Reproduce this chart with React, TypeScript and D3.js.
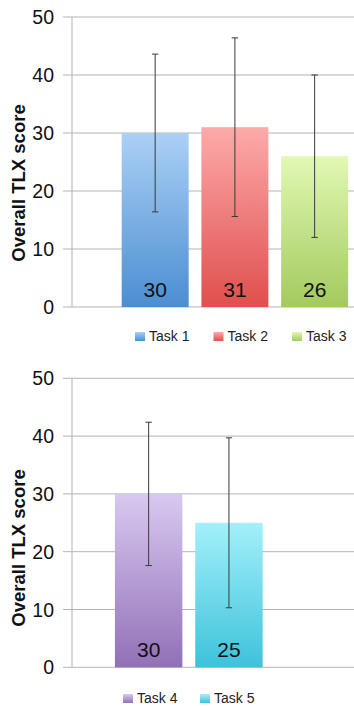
import React from "react";
import * as d3 from "d3";

const yTicks = [0, 10, 20, 30, 40, 50];

const tasksTop = ["Task 1", "Task 2", "Task 3"];
const meansTop = [30, 31, 26];
const errTop = [13.6, 15.4, 14];

const tasksBottom = ["Task 4", "Task 5"];
const meansBottom = [30, 25];
const errBottom = [12.4, 14.7];

const colorsTop = [
  ["#abd0f6", "#4b8ed1"],
  ["#fdaaaa", "#df4f4d"],
  ["#e2f8b4", "#a3ca5e"],
];
const colorsBottom = [
  ["#d8c9f0", "#9270b7"],
  ["#a3f0fa", "#3ec2da"],
];

const FONT = "'Liberation Sans', Arial, Helvetica, sans-serif";

type PanelProps = {
  id: string;
  tasks: string[];
  means: number[];
  errs: number[];
  colors: string[][];
  y0: number;
  y50: number;
  bandRange: [number, number];
  nSlots: number;
  legendX: number;
  legendStep: number;
  legendY: number;
  labelY: number;
};

function Panel(p: PanelProps) {
  const y = d3.scaleLinear().domain([0, 50]).range([p.y0, p.y50]);
  const slots = d3.range(p.nSlots).map(String);
  const x = d3
    .scaleBand<string>()
    .domain(slots)
    .range(p.bandRange)
    .paddingInner(0.16)
    .paddingOuter(0.08);
  const axisX = 72;
  const rightX = 354;
  const cap = 3.2;
  return (
    <g>
      <defs>
        {p.colors.map((c, i) => (
          <linearGradient key={i} id={`${p.id}-g${i}`} x1="0" y1="0" x2="0" y2="1">
            <stop offset="0%" stopColor={c[0]} />
            <stop offset="100%" stopColor={c[1]} />
          </linearGradient>
        ))}
      </defs>
      {yTicks.map((t) => (
        <g key={t}>
          <line x1={63} x2={rightX} y1={y(t)} y2={y(t)} stroke="#b3b3b3" strokeWidth={1} />
          <text
            x={54}
            y={y(t)}
            dy="0.36em"
            textAnchor="end"
            fontFamily={FONT}
            fontSize={19.5}
            fill="#111"
          >
            {t}
          </text>
        </g>
      ))}
      <line x1={axisX} x2={axisX} y1={y(50)} y2={y(0)} stroke="#b3b3b3" strokeWidth={1} />
      {p.tasks.map((task, i) => {
        const bx = x(String(i))!;
        const bw = x.bandwidth();
        const cx = bx + bw / 2;
        return (
          <g key={task}>
            <rect
              x={bx}
              y={y(p.means[i])}
              width={bw}
              height={y(0) - y(p.means[i])}
              fill={`url(#${p.id}-g${i})`}
            />
            <line
              x1={cx}
              x2={cx}
              y1={y(p.means[i] + p.errs[i])}
              y2={y(p.means[i] - p.errs[i])}
              stroke="#3a3a3a"
              strokeWidth={1}
            />
            <line
              x1={cx - cap}
              x2={cx + cap}
              y1={y(p.means[i] + p.errs[i])}
              y2={y(p.means[i] + p.errs[i])}
              stroke="#3a3a3a"
              strokeWidth={1}
            />
            <line
              x1={cx - cap}
              x2={cx + cap}
              y1={y(p.means[i] - p.errs[i])}
              y2={y(p.means[i] - p.errs[i])}
              stroke="#3a3a3a"
              strokeWidth={1}
            />
            <text
              x={cx}
              y={y(0) - 10}
              textAnchor="middle"
              fontFamily={FONT}
              fontSize={21}
              fill="#111"
            >
              {p.means[i]}
            </text>
            <rect
              x={p.legendX + i * p.legendStep}
              y={p.legendY - 9}
              width={10}
              height={9}
              fill={`url(#${p.id}-g${i})`}
            />
            <text
              x={p.legendX + i * p.legendStep + 14}
              y={p.legendY}
              fontFamily={FONT}
              fontSize={14}
              fill="#222"
            >
              {task}
            </text>
          </g>
        );
      })}
      <text
        transform={`translate(25,${p.labelY}) rotate(-90)`}
        textAnchor="middle"
        fontFamily={FONT}
        fontWeight="bold"
        fontSize={18.5}
        fill="#111"
      >
        Overall TLX score
      </text>
    </g>
  );
}

export default function App() {
  return (
    <svg
      width={354}
      height={706}
      style={{ position: "absolute", left: 0, top: 0, background: "#fff" }}
    >
      <rect x={0} y={0} width={354} height={706} fill="#fff" />
      <Panel
        id="top"
        tasks={tasksTop}
        means={meansTop}
        errs={errTop}
        colors={colorsTop}
        y0={307}
        y50={17}
        bandRange={[115.3, 354.5]}
        nSlots={3}
        legendX={135}
        legendStep={78.5}
        legendY={341}
        labelY={183}
      />
      <Panel
        id="bot"
        tasks={tasksBottom}
        means={meansBottom}
        errs={errBottom}
        colors={colorsBottom}
        y0={667.3}
        y50={378.3}
        bandRange={[108.5, 349.4]}
        nSlots={3}
        legendX={123}
        legendStep={77}
        legendY={703}
        labelY={548}
      />
    </svg>
  );
}
